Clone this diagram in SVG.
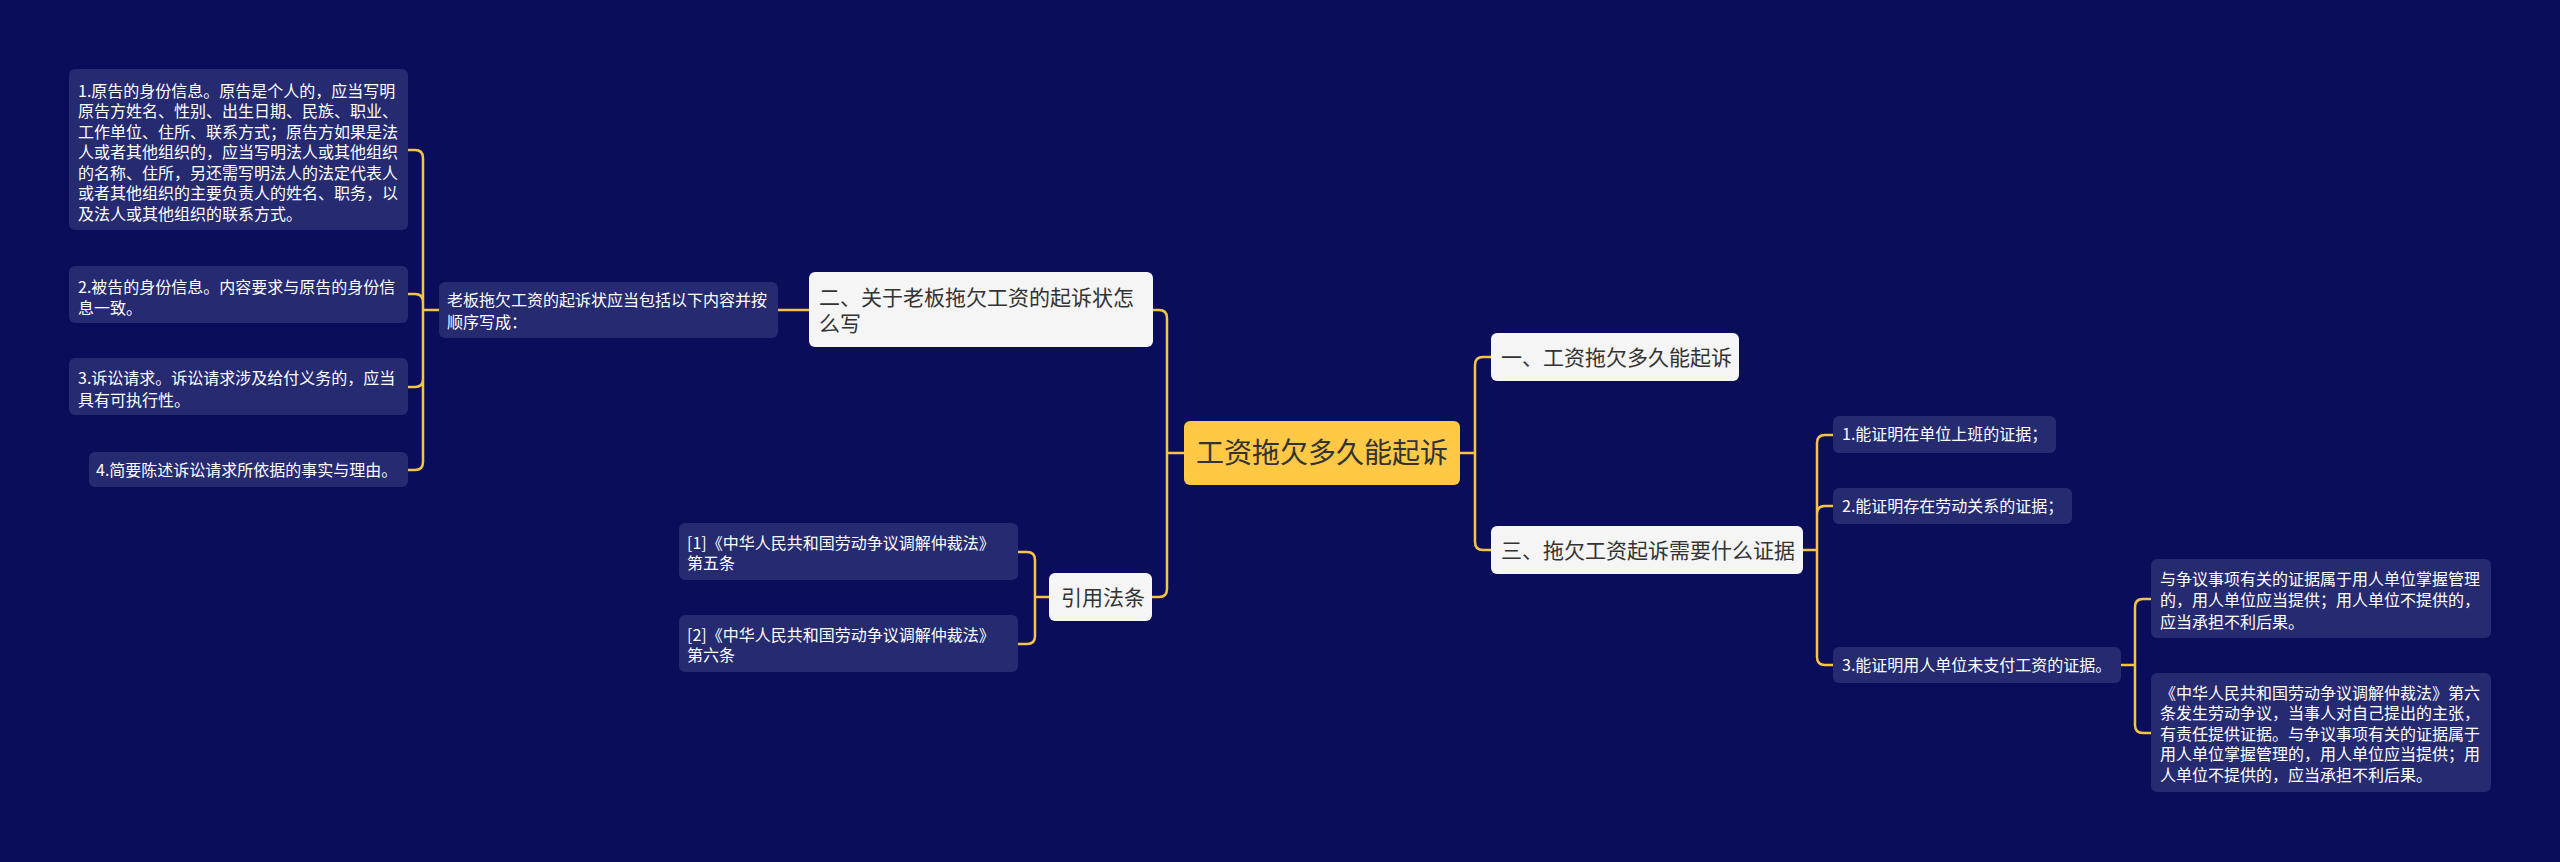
<svg xmlns="http://www.w3.org/2000/svg" width="2560" height="862" viewBox="0 0 2560 862">
<style>
.bg{fill:#0a0e5a}
.leaf{fill:#252a71}
.br{fill:#f5f5f5}
.root{fill:#ffc845}
.lt{font-family:"Noto Sans CJK SC","Noto Sans",sans-serif;font-size:16px;fill:#ffffff}
.bt{font-family:"Noto Sans CJK SC","Noto Sans",sans-serif;font-size:21px;fill:#333333}
.rt{font-family:"Noto Sans CJK SC","Noto Sans",sans-serif;font-size:28px;fill:#333333}
.c{fill:none;stroke:#f6c445;stroke-width:2.5}
</style>
<rect class="bg" x="0" y="0" width="2560" height="862"/>
<g id="connectors">
<path class="c" d="M439,310 H423 M423,310 V158 Q423,150 415,150 H408 M423,310 V302 Q423,294 415,294 H408 M423,310 V379 Q423,387 415,387 H408 M423,310 V462 Q423,470 415,470 H408"/>
<path class="c" d="M778,310 H809"/>
<path class="c" d="M1184,453 H1167 M1167,453 V318 Q1167,310 1159,310 H1153 M1167,453 V589 Q1167,597 1159,597 H1152"/>
<path class="c" d="M1049,597 H1035 M1035,597 V560 Q1035,552 1027,552 H1018 M1035,597 V636 Q1035,644 1027,644 H1018"/>
<path class="c" d="M1460,453 H1475 M1475,453 V365 Q1475,357 1483,357 H1491 M1475,453 V542 Q1475,550 1483,550 H1491"/>
<path class="c" d="M1803,550 H1817 M1817,550 V443 Q1817,435 1825,435 H1833 M1817,550 V514 Q1817,506 1825,506 H1833 M1817,550 V657 Q1817,665 1825,665 H1833"/>
<path class="c" d="M2121,665 H2135 M2135,665 V607 Q2135,599 2143,599 H2151 M2135,665 V725 Q2135,733 2143,733 H2151"/>
</g>
<g id="root">
<rect class="root" x="1184" y="421" width="276" height="64" rx="6"/>
<text class="rt" x="1322" y="463" text-anchor="middle">工资拖欠多久能起诉</text>
</g>
<g id="n1">
<rect class="br" x="1491" y="333" width="248" height="48" rx="6"/>
<text class="bt" x="1501" y="364.5">一、工资拖欠多久能起诉</text>
</g>
<g id="n3">
<rect class="br" x="1491" y="526" width="312" height="48" rx="6"/>
<text class="bt" x="1501" y="557.5">三、拖欠工资起诉需要什么证据</text>
</g>
<g id="n2">
<rect class="br" x="809" y="272" width="344" height="75" rx="6"/>
<text class="bt" x="819" y="304.5">二、关于老板拖欠工资的起诉状怎</text>
<text class="bt" x="819" y="330.5">么写</text>
</g>
<g id="nref">
<rect class="br" x="1049" y="573" width="103" height="48" rx="6"/>
<text class="bt" x="1061" y="604.5">引用法条</text>
</g>
<g id="n2a">
<rect class="leaf" x="439" y="282" width="339" height="56" rx="6"/>
<text class="lt" x="447" y="305.5">老板拖欠工资的起诉状应当包括以下内容并按</text>
<text class="lt" x="447" y="327.5">顺序写成：</text>
</g>
<g id="l1">
<rect class="leaf" x="69" y="69" width="339" height="161" rx="6"/>
<text class="lt" x="78" y="96.5">1.原告的身份信息。原告是个人的，应当写明</text>
<text class="lt" x="78" y="117">原告方姓名、性别、出生日期、民族、职业、</text>
<text class="lt" x="78" y="137.5">工作单位、住所、联系方式；原告方如果是法</text>
<text class="lt" x="78" y="158">人或者其他组织的，应当写明法人或其他组织</text>
<text class="lt" x="78" y="178.5">的名称、住所，另还需写明法人的法定代表人</text>
<text class="lt" x="78" y="199">或者其他组织的主要负责人的姓名、职务，以</text>
<text class="lt" x="78" y="219.5">及法人或其他组织的联系方式。</text>
</g>
<g id="l2">
<rect class="leaf" x="69" y="266" width="339" height="57" rx="6"/>
<text class="lt" x="78" y="292.5">2.被告的身份信息。内容要求与原告的身份信</text>
<text class="lt" x="78" y="313.5">息一致。</text>
</g>
<g id="l3">
<rect class="leaf" x="69" y="358" width="339" height="57" rx="6"/>
<text class="lt" x="78" y="383.5">3.诉讼请求。诉讼请求涉及给付义务的，应当</text>
<text class="lt" x="78" y="405.5">具有可执行性。</text>
</g>
<g id="l4">
<rect class="leaf" x="89" y="452" width="319" height="35" rx="6"/>
<text class="lt" x="96" y="475.5">4.简要陈述诉讼请求所依据的事实与理由。</text>
</g>
<g id="r1">
<rect class="leaf" x="679" y="523" width="339" height="57" rx="6"/>
<text class="lt" x="687" y="548.5">[1]《中华人民共和国劳动争议调解仲裁法》</text>
<text class="lt" x="687" y="568.5">第五条</text>
</g>
<g id="r2">
<rect class="leaf" x="679" y="615" width="339" height="57" rx="6"/>
<text class="lt" x="687" y="640.5">[2]《中华人民共和国劳动争议调解仲裁法》</text>
<text class="lt" x="687" y="660.5">第六条</text>
</g>
<g id="e1">
<rect class="leaf" x="1833" y="416" width="223" height="37" rx="6"/>
<text class="lt" x="1842" y="440">1.能证明在单位上班的证据；</text>
</g>
<g id="e2">
<rect class="leaf" x="1833" y="488" width="239" height="36" rx="6"/>
<text class="lt" x="1842" y="511.5">2.能证明存在劳动关系的证据；</text>
</g>
<g id="e3">
<rect class="leaf" x="1833" y="647" width="288" height="36" rx="6"/>
<text class="lt" x="1842" y="670.5">3.能证明用人单位未支付工资的证据。</text>
</g>
<g id="e3a">
<rect class="leaf" x="2151" y="559" width="340" height="79" rx="6"/>
<text class="lt" x="2160" y="584.5">与争议事项有关的证据属于用人单位掌握管理</text>
<text class="lt" x="2160" y="606">的，用人单位应当提供；用人单位不提供的，</text>
<text class="lt" x="2160" y="627.5">应当承担不利后果。</text>
</g>
<g id="e3b">
<rect class="leaf" x="2151" y="673" width="340" height="119" rx="6"/>
<text class="lt" x="2160" y="698.5">《中华人民共和国劳动争议调解仲裁法》第六</text>
<text class="lt" x="2160" y="719">条发生劳动争议，当事人对自己提出的主张，</text>
<text class="lt" x="2160" y="739.5">有责任提供证据。与争议事项有关的证据属于</text>
<text class="lt" x="2160" y="760">用人单位掌握管理的，用人单位应当提供；用</text>
<text class="lt" x="2160" y="780.5">人单位不提供的，应当承担不利后果。</text>
</g>
</svg>
